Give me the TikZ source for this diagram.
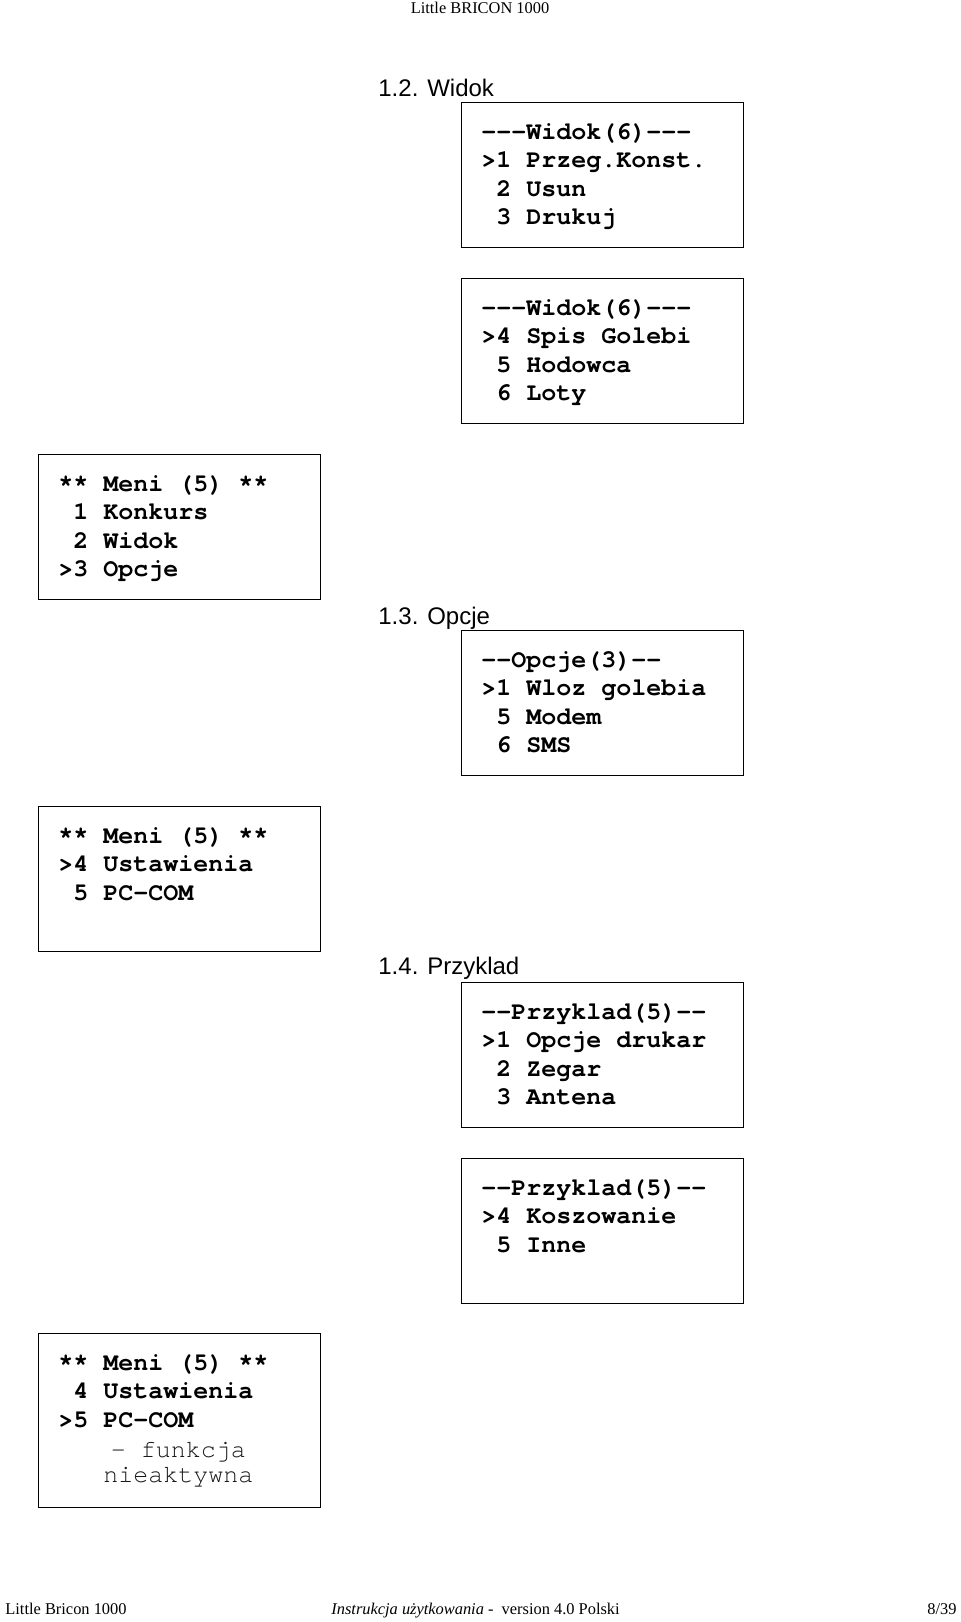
\documentclass[tikz,border=0pt]{standalone}
\usepackage{fontspec}
\setmainfont{Liberation Serif}
\newfontfamily\lmono{TeX Gyre Cursor}[Ligatures=TeXOff]
\newfontfamily\lsans{Liberation Sans}
\newcommand{\lcdsp}{\hphantom{>}}
\begin{document}
\begin{tikzpicture}[x=0.5pt,y=-0.5pt,
  lcdbox/.style={draw=black,line width=0.7pt,anchor=north west,minimum width=141pt,minimum height=72.5pt,inner sep=0pt},
  ln/.style={anchor=base west,inner sep=0pt,font=\lmono\bfseries\fontsize{12.5}{14}\selectfont},
  lnthin/.style={anchor=base west,inner sep=0pt,font=\lmono\fontsize{12.5}{14}\selectfont,text=black!90},
  sect/.style={anchor=base west,inner sep=0pt,font=\lsans\fontsize{12}{14}\selectfont},
  pagetxt/.style={anchor=base,inner sep=0pt,font=\fontsize{8.2}{10}\selectfont}]
\useasboundingbox (0,0) rectangle (960,1622);
% header / footer
\node[pagetxt] (hdr) at (480,13) {Little BRICON 1000};
\node[pagetxt,anchor=base west] (ftl) at (5,1614) {Little Bricon 1000};
\node[pagetxt,anchor=base west] (ftm) at (331,1614) {\textit{Instrukcja użytkowania} - \ version 4.0 Polski};
\node[pagetxt,anchor=base east] (ftr) at (957,1614) {8/39};
% section titles
\node[sect] (s12) at (378,96) {1.2. Widok};
\node[sect] (s13) at (378,624) {1.3. Opcje};
\node[sect] (s14) at (378,974) {1.4. Przyklad};
% boxes
\node[lcdbox] (w1) at (461,102) {};
\node[lcdbox] (w2) at (461,278) {};
\node[lcdbox] (m1) at (38,454) {};
\node[lcdbox] (o1) at (461,630) {};
\node[lcdbox] (m2) at (38,806) {};
\node[lcdbox] (p1) at (461,982) {};
\node[lcdbox] (p2) at (461,1158) {};
\node[lcdbox,minimum height=87pt] (m3) at (38,1333) {};
% Widok 1
\node[ln] (w1a) at (481,139.5) {---Widok(6)---};
\node[ln] (w1b) at (481,167.8) {>1 Przeg.Konst.};
\node[ln] (w1c) at (481,196.1) {\lcdsp2 Usun};
\node[ln] (w1d) at (481,224.4) {\lcdsp3 Drukuj};
% Widok 2
\node[ln] (w2a) at (481,315.5) {---Widok(6)---};
\node[ln] (w2b) at (481,343.8) {>4 Spis Golebi};
\node[ln] (w2c) at (481,372.1) {\lcdsp5 Hodowca};
\node[ln] (w2d) at (481,400.4) {\lcdsp6 Loty};
% Meni 1
\node[ln] (m1a) at (58,491.5) {** Meni (5) **};
\node[ln] (m1b) at (58,519.8) {\lcdsp1 Konkurs};
\node[ln] (m1c) at (58,548.1) {\lcdsp2 Widok};
\node[ln] (m1d) at (58,576.4) {>3 Opcje};
% Opcje
\node[ln] (o1a) at (481,667.5) {--Opcje(3)—-};
\node[ln] (o1b) at (481,695.8) {>1 Wloz golebia};
\node[ln] (o1c) at (481,724.1) {\lcdsp5 Modem};
\node[ln] (o1d) at (481,752.4) {\lcdsp6 SMS};
% Meni 2
\node[ln] (m2a) at (58,843.5) {** Meni (5) **};
\node[ln] (m2b) at (58,871.8) {>4 Ustawienia};
\node[ln] (m2c) at (58,900.1) {\lcdsp5 PC-COM};
% Przyklad 1
\node[ln] (p1a) at (481,1019.5) {--Przyklad(5)--};
\node[ln] (p1b) at (481,1047.8) {>1 Opcje drukar};
\node[ln] (p1c) at (481,1076.1) {\lcdsp2 Zegar};
\node[ln] (p1d) at (481,1104.4) {\lcdsp3 Antena};
% Przyklad 2
\node[ln] (p2a) at (481,1195.5) {--Przyklad(5)--};
\node[ln] (p2b) at (481,1223.8) {>4 Koszowanie};
\node[ln] (p2c) at (481,1252.1) {\lcdsp5 Inne};
% Meni 3
\node[ln] (m3a) at (58,1370.5) {** Meni (5) **};
\node[ln] (m3b) at (58,1398.8) {\lcdsp4 Ustawienia};
\node[ln] (m3c) at (58,1427.1) {>5 PC-COM};
\node[lnthin] (m3d) at (110.5,1457.5) {– funkcja};
\node[lnthin] (m3e) at (103,1482.5) {nieaktywna};
\end{tikzpicture}
\end{document}
